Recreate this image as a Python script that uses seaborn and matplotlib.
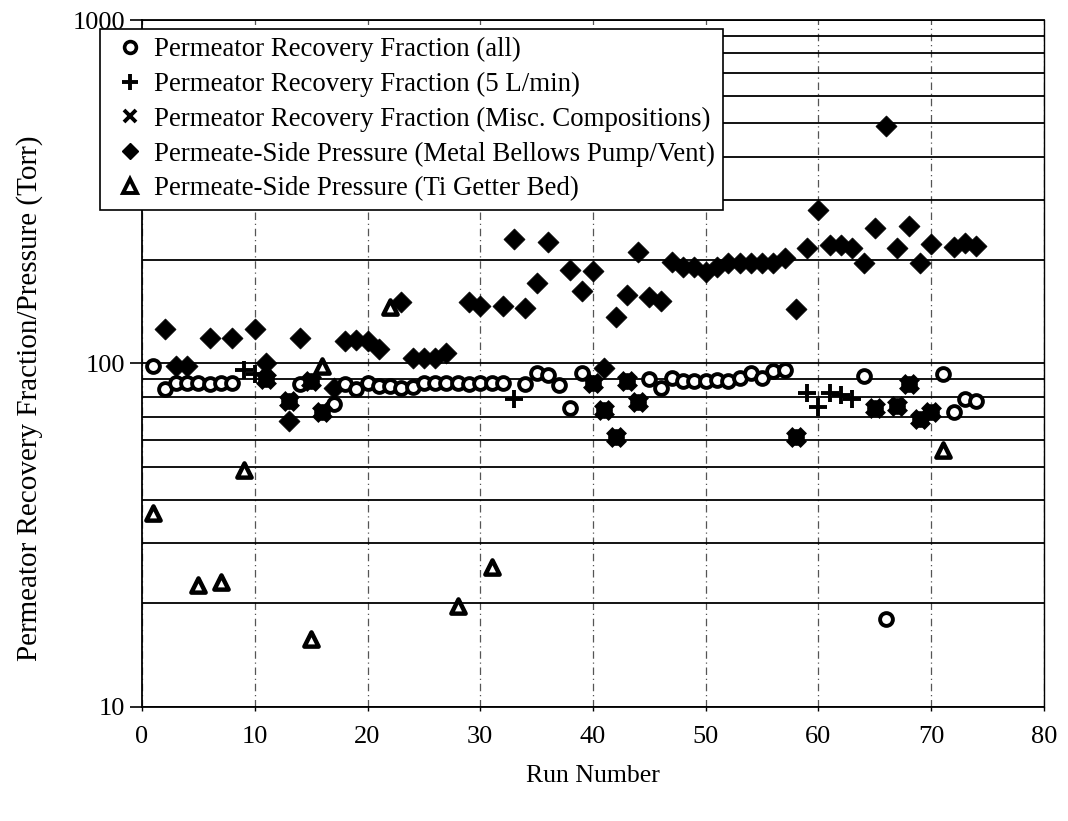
import numpy as np
import pandas as pd
import matplotlib
matplotlib.use("Agg")
import matplotlib.pyplot as plt
from matplotlib.lines import Line2D
from matplotlib.ticker import LogLocator, FixedLocator, NullFormatter
import seaborn as sns

# Permeator recovery fraction, all runs (open circles)
run_all = [1, 2, 3, 4, 5, 6, 7, 8, 14, 17, 18, 19, 20, 21, 22, 23, 24, 25, 26, 27,
           28, 29, 30, 31, 32, 34, 35, 36, 37, 38, 39, 45, 46, 47, 48, 49, 50, 51,
           52, 53, 54, 55, 56, 57, 64, 66, 71, 72, 73, 74]
frac_all = [98, 84.5, 88, 88, 88, 87, 88, 88, 87, 76, 87, 84, 88, 86, 86, 85, 85.5,
            88, 88, 88, 88, 87, 88, 88, 88, 87, 93.7, 92.7, 86.7, 74.4, 94, 90, 85,
            91, 89, 89, 89, 89.5, 89, 91, 94, 91, 95, 96, 92, 18, 93, 72, 79, 78]

# Recovery fraction at 5 L/min
run_5lpm = [9, 10, 33, 59, 60, 61, 62, 63]
frac_5lpm = [96, 93, 79, 82, 74.5, 82, 81, 79]

# Recovery fraction, miscellaneous compositions
run_misc = [11, 13, 15, 16, 40, 41, 42, 43, 44, 58, 65, 67, 68, 69, 70]
frac_misc = [90, 78, 89, 72, 88, 73, 61, 89, 77, 61, 74, 75, 87, 69, 72]

# Permeate-side pressure with metal bellows pump/vent (Torr)
run_bellows = [2, 3, 4, 6, 8, 10, 11, 13, 14, 17, 18, 19, 20, 21, 23, 24, 25, 26, 27,
               29, 30, 32, 33, 34, 35, 36, 38, 39, 40, 41, 42, 43, 44, 45, 46, 47, 48,
               49, 50, 51, 52, 53, 54, 55, 56, 57, 58, 59, 60, 61, 62, 63, 64, 65, 66,
               67, 68, 69, 70, 72, 73, 74]
p_bellows = [126, 98, 98, 119, 119, 126, 100, 68, 119, 85, 116, 117, 116, 110, 151,
             104, 104, 104, 107, 151, 147, 147, 230, 145, 171, 226, 187, 163, 186, 97,
             137, 158, 211, 156, 152, 197, 191, 191, 185, 191, 196, 196, 196, 196, 196,
             203, 144, 217, 280, 221, 221, 217, 196, 248, 491, 217, 251, 196, 223, 218,
             224, 220]

# Permeate-side pressure with Ti getter bed (Torr)
run_getter = [1, 5, 7, 9, 15, 16, 22, 28, 31, 71]
p_getter = [36.7, 22.6, 23.1, 49, 15.8, 98.5, 146, 19.7, 25.6, 56]

labels = [
    "Permeator Recovery Fraction (all)",
    "Permeator Recovery Fraction (5 L/min)",
    "Permeator Recovery Fraction (Misc. Compositions)",
    "Permeate-Side Pressure (Metal Bellows Pump/Vent)",
    "Permeate-Side Pressure (Ti Getter Bed)",
]

sns.set_theme(style="white")
plt.rcParams["font.family"] = ["Liberation Serif", "DejaVu Serif"]
plt.rcParams.update({"text.color": "black", "axes.labelcolor": "black",
                     "xtick.color": "black", "ytick.color": "black"})

fig = plt.figure(figsize=(10.68, 8.21), dpi=100)
ax = fig.add_axes([0.133, 0.139, 0.8445, 0.8366])

df_all = pd.DataFrame({"run": run_all, "value": frac_all})
df_5 = pd.DataFrame({"run": run_5lpm, "value": frac_5lpm})
df_misc = pd.DataFrame({"run": run_misc, "value": frac_misc})
df_bel = pd.DataFrame({"run": run_bellows, "value": p_bellows})
df_get = pd.DataFrame({"run": run_getter, "value": p_getter})

sns.scatterplot(data=df_bel, x="run", y="value", marker="D", s=115,
                color="black", edgecolor="black", linewidth=0.5, ax=ax,
                zorder=3, legend=False)
sns.scatterplot(data=df_all, x="run", y="value", marker="o", s=85,
                color="white", edgecolor="black", linewidth=2.8, ax=ax,
                zorder=4, legend=False)
# misc compositions: bold crosses over a ring, which fill into a solid blob
sns.scatterplot(data=df_misc, x="run", y="value", marker="o", s=85,
                color="white", edgecolor="black", linewidth=2.8, ax=ax,
                zorder=4, legend=False)
sns.scatterplot(data=df_misc, x="run", y="value", marker="x", s=110,
                color="black", linewidth=6.5, ax=ax, zorder=5, legend=False)
sns.scatterplot(data=df_5, x="run", y="value", marker="+", s=170,
                color="black", linewidth=2.8, ax=ax, zorder=5, legend=False)
sns.scatterplot(data=df_get, x="run", y="value", marker="^", s=105,
                color="white", edgecolor="black", linewidth=3.2, ax=ax,
                zorder=5, legend=False)

ax.set_yscale("log")
ax.set_xlim(0, 80)
ax.set_ylim(10, 1000)

ax.xaxis.set_major_locator(FixedLocator(np.arange(0, 81, 10)))
ax.yaxis.set_major_locator(FixedLocator([10, 100, 1000]))
ax.yaxis.set_minor_locator(LogLocator(base=10, subs=np.arange(2, 10)))
ax.yaxis.set_minor_formatter(NullFormatter())
ax.set_yticklabels(["10", "100", "1000"])

ax.grid(False)
ax.grid(True, which="both", axis="y", color="black", linewidth=1.3, linestyle="-")
ax.grid(True, which="major", axis="x", color="#555555", linewidth=0.9,
        linestyle=(0, (6, 3, 1, 3)))
ax.set_axisbelow(True)

for side in ["left", "bottom", "right", "top"]:
    ax.spines[side].set_color("black")
    ax.spines[side].set_linewidth(1.3)
ax.spines["right"].set_linewidth(1.0)

ax.tick_params(axis="y", which="major", direction="out", length=9, width=1.2,
               color="black", labelsize=19, pad=3, left=True)
ax.tick_params(axis="x", which="major", direction="out", length=3, width=1.0,
               color="black", labelsize=19, pad=11, bottom=True)
ax.tick_params(axis="y", which="minor", length=0)

ax.set_xlabel("Run Number", fontsize=18.5, labelpad=12)
ax.set_ylabel("Permeator Recovery Fraction/Pressure (Torr)", fontsize=21)
ax.yaxis.set_label_coords(-0.11, 0.45)

handles = [
    Line2D([], [], linestyle="none", marker="o", markersize=8.5, markerfacecolor="white",
           markeredgecolor="black", markeredgewidth=2.6),
    Line2D([], [], linestyle="none", marker="+", markersize=11, color="black",
           markeredgewidth=2.8),
    Line2D([], [], linestyle="none", marker="x", markersize=9, color="black",
           markeredgewidth=2.8),
    Line2D([], [], linestyle="none", marker="D", markersize=8.5, color="black"),
    Line2D([], [], linestyle="none", marker="^", markersize=10, markerfacecolor="white",
           markeredgecolor="black", markeredgewidth=2.8),
]
leg = ax.legend(handles, labels, loc="upper left",
                bbox_to_anchor=(100 / 1068, 1 - 29 / 821),
                bbox_transform=fig.transFigure, fontsize=19.4, frameon=True,
                fancybox=False, edgecolor="black", framealpha=1,
                borderaxespad=0, handletextpad=0.1, handlelength=1.6,
                labelspacing=0.36, borderpad=0.3)
leg.get_frame().set_linewidth(1.2)
leg.set_zorder(10)

fig.savefig("out.png", dpi=100, facecolor="white")
